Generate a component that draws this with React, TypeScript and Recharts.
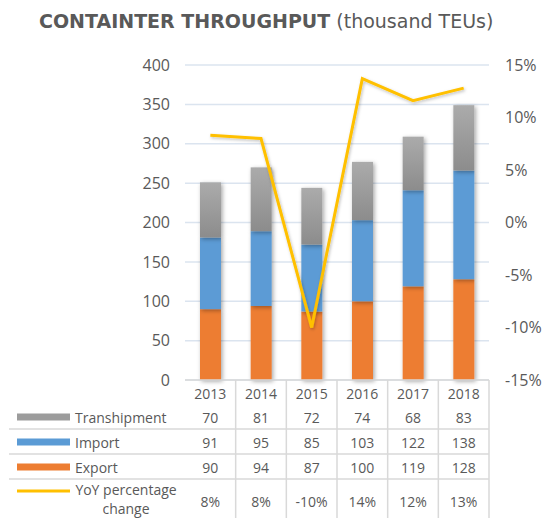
import { ComposedChart, Bar, Line, XAxis, YAxis, CartesianGrid } from 'recharts';

const YEARS = ['2013', '2014', '2015', '2016', '2017', '2018'];
const EXPORT = [90, 94, 87, 100, 119, 128];
const IMPORT = [91, 95, 85, 103, 122, 138];
const TRANSHIPMENT = [70, 81, 72, 74, 68, 83];
const YOY = [8.3, 8.0, -10.0, 13.7, 11.6, 12.8];
const LEFT_TICKS = [0, 50, 100, 150, 200, 250, 300, 350, 400];
const RIGHT_TICKS = [-15, -10, -5, 0, 5, 10, 15];

const W = 551;
const H = 518;
const PLOT_LEFT = 185;
const PLOT_RIGHT = 489;
const PLOT_TOP = 65;
const PLOT_BOTTOM = 380;
const BAND = (PLOT_RIGHT - PLOT_LEFT) / YEARS.length;
const TEXT = '#595959';
const BORDER = '#d9d9d9';
const FONT = '"Open Sans", sans-serif';

const data = YEARS.map((year, i) => ({
  year,
  export: EXPORT[i],
  import: IMPORT[i],
  transhipment: TRANSHIPMENT[i],
  yoy: YOY[i],
}));

// rows of the data table, top to bottom
const ROWS = [
  { label: 'Transhipment', values: TRANSHIPMENT.map(String), key: 'bar', color: '#9c9c9c' },
  { label: 'Import', values: IMPORT.map(String), key: 'bar', color: '#5b9bd5' },
  { label: 'Export', values: EXPORT.map(String), key: 'bar', color: '#ed7d31' },
  { label: 'YoY percentage change', values: YOY.map((v) => `${Math.round(v)}%`), key: 'line', color: '#ffc000' },
];

const ROW_TOP = 405;
const ROW_H = 25;

const TableTick = (props: any) => {
  const { x, payload } = props;
  const i = payload.index ?? props.index;
  return (
    <g fontFamily={FONT} fontSize={14} fill={TEXT}>
      <text x={x} y={393} textAnchor="middle" dominantBaseline="central">{payload.value}</text>
      {ROWS.map((r, k) => (
        <text
          key={r.label}
          x={x}
          y={k === 3 ? ROW_TOP + k * ROW_H + 21 : ROW_TOP + k * ROW_H + 12}
          textAnchor="middle"
          dominantBaseline="central"
        >
          {r.values[i]}
        </text>
      ))}
      <line x1={x + BAND / 2} y1={PLOT_BOTTOM} x2={x + BAND / 2} y2={H} stroke={BORDER} strokeWidth={1.5} />
    </g>
  );
};

const shadowBar = (fill: string) => (p: any) => (
  <rect x={p.x} y={p.y} width={p.width} height={p.height} fill={fill} filter="url(#barShadow)" />
);

const App = () => {
  return (
    <div style={{ position: 'absolute', left: 0, top: 0, width: W, height: H, background: '#fff', fontFamily: FONT }}>
      <ComposedChart
        width={W}
        height={H}
        data={data}
        margin={{ top: PLOT_TOP, right: 0, bottom: 0, left: 0 }}
        barSize={21}
      >
        <defs>
          <linearGradient id="grayGrad" x1="0" y1="0" x2="0" y2="1">
            <stop offset="0%" stopColor="#ababab" />
            <stop offset="100%" stopColor="#8c8c8c" />
          </linearGradient>
          <filter id="barShadow" x="-50%" y="-20%" width="200%" height="140%">
            <feDropShadow dx="1.5" dy="1.5" stdDeviation="2" floodColor="#000" floodOpacity="0.35" />
          </filter>
          <filter id="lineShadow" x="-10%" y="-10%" width="120%" height="120%">
            <feDropShadow dx="1" dy="1.5" stdDeviation="1.5" floodColor="#000" floodOpacity="0.25" />
          </filter>
        </defs>
        <CartesianGrid vertical={false} stroke="#dbe4ef" strokeWidth={1.5} yAxisId="left" />
        <XAxis
          dataKey="year"
          axisLine={{ stroke: BORDER, strokeWidth: 1.5 }}
          tickLine={false}
          interval={0}
          height={H - PLOT_BOTTOM}
          tick={<TableTick />}
        />
        <YAxis
          yAxisId="left"
          domain={[0, 400]}
          ticks={LEFT_TICKS}
          width={PLOT_LEFT}
          axisLine={false}
          tickLine={false}
          tickSize={0}
          tickMargin={15}
          tick={{ fill: TEXT, fontSize: 16, fontFamily: FONT }}
        />
        <YAxis
          yAxisId="right"
          orientation="right"
          domain={[-15, 15]}
          ticks={RIGHT_TICKS}
          width={W - PLOT_RIGHT}
          axisLine={false}
          tickLine={false}
          tickSize={0}
          tickMargin={16}
          tickFormatter={(v: number) => `${v}%`}
          tick={{ fill: TEXT, fontSize: 16, fontFamily: FONT }}
        />
        <Bar yAxisId="left" dataKey="export" stackId="a" fill="#ed7d31" shape={shadowBar('#ed7d31')} isAnimationActive={false} />
        <Bar yAxisId="left" dataKey="import" stackId="a" fill="#5b9bd5" shape={shadowBar('#5b9bd5')} isAnimationActive={false} />
        <Bar yAxisId="left" dataKey="transhipment" stackId="a" fill="#9c9c9c" shape={shadowBar('url(#grayGrad)')} isAnimationActive={false} />
        <Line
          yAxisId="right"
          dataKey="yoy"
          type="linear"
          stroke="#ffc000"
          strokeWidth={3}
          dot={false}
          activeDot={false}
          filter="url(#lineShadow)"
          isAnimationActive={false}
        />
      </ComposedChart>
      <svg width={W} height={H} style={{ position: 'absolute', left: 0, top: 0, pointerEvents: 'none' }}>
        <text x={39} y={28} fontFamily='"DejaVu Sans", sans-serif' fontSize={19} fill={TEXT}>
          <tspan fontWeight={700}>CONTAINTER THROUGHPUT</tspan>
          <tspan> (thousand TEUs)</tspan>
        </text>
        <g fontFamily={FONT} fontSize={14} fill={TEXT}>
          {[1, 2, 3].map((k) => (
            <line key={k} x1={9} y1={ROW_TOP + k * ROW_H - 1} x2={PLOT_RIGHT} y2={ROW_TOP + k * ROW_H - 1} stroke={BORDER} strokeWidth={1.5} />
          ))}
          {ROWS.map((r, k) => {
            const cy = ROW_TOP + k * ROW_H + 12;
            if (r.key === 'bar') {
              return (
                <g key={r.label}>
                  <rect x={17} y={cy - 3.5} width={53} height={7} fill={r.color} />
                  <text x={75} y={cy} dominantBaseline="central">{r.label}</text>
                </g>
              );
            }
            return (
              <g key={r.label}>
                <line x1={17} y1={cy - 1} x2={70} y2={cy - 1} stroke={r.color} strokeWidth={3} />
                <text x={126} y={cy - 3} textAnchor="middle" dominantBaseline="central">YoY percentage</text>
                <text x={126} y={cy + 16} textAnchor="middle" dominantBaseline="central">change</text>
              </g>
            );
          })}
        </g>
      </svg>
    </div>
  );
};

export default App;
